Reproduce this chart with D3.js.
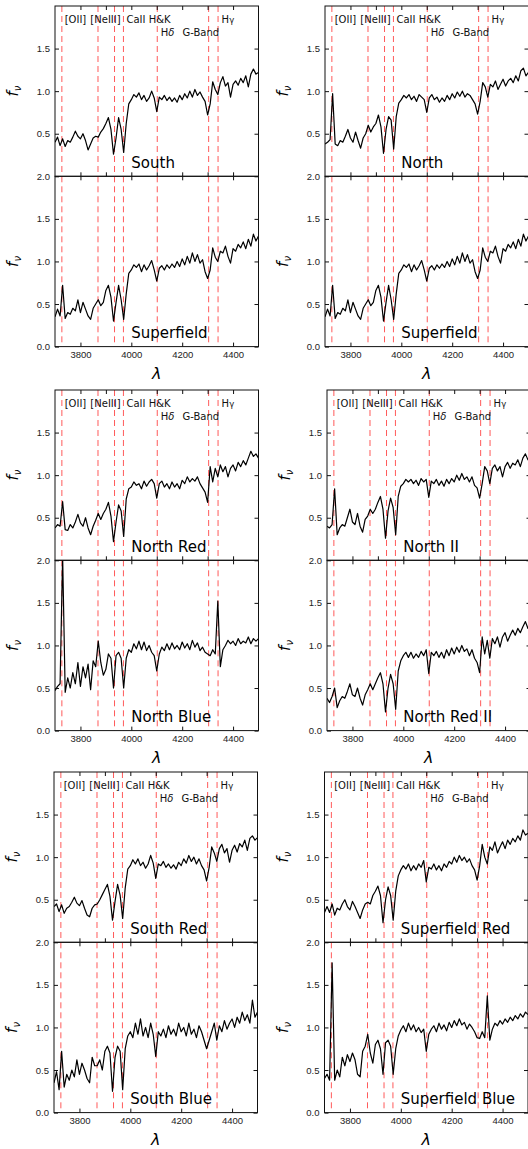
<!DOCTYPE html>
<html>
<head>
<meta charset="UTF-8">
<title>Spectra</title>
<style>
body { margin: 0; background: #fff; }
svg { display: block; font-family: "DejaVu Sans", sans-serif; }
.frame { fill: none; stroke: #111; stroke-width: 1; }
.spec { fill: none; stroke: #000; stroke-width: 1.2; stroke-linejoin: round; }
.feat { stroke: #ff0000; stroke-opacity: 0.65; stroke-width: 1; stroke-dasharray: 6 4; }
.axis path.domain { display: none; }
.axis .tick line { stroke: #111; }
.axis .tick text { font-size: 9.5px; fill: #222; }
.flabel { font-size: 10px; fill: #111; }
.plabel { font-size: 15px; fill: #000; }
</style>
</head>
<body>
<script src="https://cdn.jsdelivr.net/npm/d3@7/dist/d3.min.js"></script>
<script>

// wavelength grid (Angstrom)
const wavelength = [
  3700, 3710, 3720, 3730, 3740, 3750, 3760, 3770, 3780, 3790,
  3800, 3810, 3820, 3830, 3840, 3850, 3860, 3870, 3880, 3890,
  3900, 3910, 3920, 3930, 3940, 3950, 3960, 3970, 3980, 3990,
  4000, 4010, 4020, 4030, 4040, 4050, 4060, 4070, 4080, 4090,
  4100, 4110, 4120, 4130, 4140, 4150, 4160, 4170, 4180, 4190,
  4200, 4210, 4220, 4230, 4240, 4250, 4260, 4270, 4280, 4290,
  4300, 4310, 4320, 4330, 4340, 4350, 4360, 4370, 4380, 4390,
  4400, 4410, 4420, 4430, 4440, 4450, 4460, 4470, 4480, 4490,
  4500
];

const south = [
  0.40,0.46,0.36,0.44,0.35,0.42,0.40,0.46,0.53,0.47,
  0.44,0.50,0.42,0.31,0.38,0.45,0.47,0.46,0.52,0.56,
  0.62,0.69,0.55,0.26,0.45,0.69,0.55,0.28,0.62,0.85,
  0.90,0.96,0.93,0.98,0.90,0.95,0.88,0.92,1.00,0.92,
  0.76,0.93,0.90,0.95,0.89,0.93,0.88,0.92,0.87,0.95,
  0.90,0.97,0.92,1.00,0.93,1.02,0.95,0.99,0.93,0.88,
  0.72,0.85,1.11,1.02,0.96,1.10,1.17,1.06,1.10,0.93,
  1.08,1.12,1.07,1.15,1.10,1.18,1.05,1.20,1.26,1.20,
  1.22
];

const superfield = [
  0.35,0.44,0.36,0.72,0.33,0.40,0.38,0.45,0.42,0.55,
  0.40,0.52,0.44,0.36,0.32,0.45,0.50,0.55,0.48,0.52,
  0.66,0.72,0.58,0.30,0.52,0.72,0.55,0.32,0.62,0.86,
  0.90,0.96,0.93,0.97,0.88,0.96,0.90,0.95,1.01,0.90,
  0.77,0.92,0.95,0.90,0.96,0.92,0.97,0.93,1.00,0.94,
  1.03,0.96,1.06,0.98,1.10,1.00,1.08,0.98,1.02,0.88,
  0.80,0.90,1.16,1.05,1.00,1.12,1.10,1.18,1.06,0.98,
  1.15,1.12,1.20,1.16,1.23,1.15,1.26,1.18,1.32,1.24,
  1.30
];

const north = [
  0.38,0.40,0.43,0.97,0.38,0.36,0.42,0.40,0.47,0.55,
  0.45,0.40,0.52,0.42,0.33,0.45,0.50,0.60,0.52,0.58,
  0.62,0.72,0.58,0.27,0.55,0.70,0.66,0.32,0.70,0.86,
  0.90,0.95,0.92,0.96,0.90,0.94,0.88,0.96,0.93,0.90,
  0.75,0.92,0.96,0.90,0.93,0.87,0.92,0.88,0.95,0.90,
  0.97,0.92,0.99,0.94,1.00,0.93,0.97,0.95,0.90,0.85,
  0.73,0.88,1.10,1.05,0.93,1.08,1.05,1.12,1.02,1.08,
  1.14,1.06,1.12,1.15,1.10,1.18,1.12,1.24,1.27,1.18,
  1.22
];

const northRed = [
  0.38,0.42,0.40,0.69,0.36,0.35,0.42,0.38,0.45,0.54,
  0.44,0.40,0.50,0.38,0.30,0.40,0.47,0.55,0.48,0.55,
  0.60,0.68,0.52,0.22,0.45,0.65,0.58,0.28,0.72,0.84,
  0.86,0.92,0.88,0.90,0.84,0.93,0.87,0.92,0.95,0.90,
  0.73,0.90,0.93,0.86,0.90,0.84,0.92,0.86,0.90,0.84,
  0.94,0.90,0.98,0.92,0.96,0.93,0.98,0.90,0.85,0.80,
  0.68,1.10,0.92,1.08,0.98,1.12,1.04,1.10,0.98,1.08,
  1.12,1.05,1.15,1.10,1.17,1.12,1.20,1.28,1.22,1.25,
  1.20
];

const northBlue = [
  0.47,0.52,0.55,2.05,0.45,0.62,0.50,0.68,0.55,0.80,
  0.52,0.75,0.62,0.78,0.48,0.82,0.75,1.05,0.80,0.65,
  0.72,0.90,0.85,0.50,0.88,0.92,0.85,0.50,0.85,0.95,
  0.92,1.02,0.96,1.05,0.95,1.04,0.94,1.00,0.92,0.88,
  0.70,0.90,0.98,0.94,1.02,0.95,1.03,0.96,1.00,0.95,
  1.04,0.97,1.02,0.95,1.06,0.98,1.03,0.94,0.98,0.92,
  0.90,0.88,0.95,0.90,1.52,0.75,0.95,1.00,1.06,1.02,
  1.05,1.00,1.08,1.02,1.05,1.03,1.10,1.02,1.08,1.05,
  1.08
];

const northII = [
  0.40,0.38,0.42,0.84,0.30,0.38,0.42,0.40,0.50,0.60,
  0.45,0.42,0.55,0.40,0.33,0.48,0.52,0.60,0.55,0.60,
  0.68,0.75,0.60,0.26,0.58,0.73,0.62,0.30,0.75,0.87,
  0.90,0.95,0.92,0.95,0.90,0.94,0.88,0.96,0.92,0.95,
  0.74,0.93,0.90,0.95,0.88,0.93,0.87,0.95,0.90,0.96,
  0.92,1.00,0.94,1.02,0.95,0.98,0.92,0.98,0.88,0.85,
  0.73,0.90,1.10,1.05,0.90,1.08,1.12,1.05,1.10,0.98,
  1.10,1.15,1.08,1.14,1.12,1.18,1.10,1.20,1.25,1.18,
  1.22
];

const northRedII = [
  0.38,0.33,0.40,0.50,0.27,0.35,0.40,0.38,0.46,0.55,
  0.42,0.40,0.50,0.38,0.30,0.42,0.48,0.55,0.48,0.55,
  0.62,0.68,0.55,0.22,0.50,0.66,0.55,0.25,0.70,0.82,
  0.88,0.92,0.86,0.92,0.85,0.90,0.86,0.93,0.88,0.95,
  0.67,0.92,0.88,0.93,0.86,0.92,0.85,0.95,0.88,0.97,
  0.90,0.98,0.92,1.00,0.93,0.96,0.88,0.95,0.85,0.80,
  0.68,1.10,0.90,1.06,0.85,1.08,1.02,1.10,0.98,1.10,
  1.15,1.05,1.12,1.18,1.12,1.20,1.15,1.22,1.28,1.20,
  1.25
];

const southRed = [
  0.42,0.45,0.36,0.44,0.34,0.40,0.42,0.47,0.53,0.46,
  0.43,0.49,0.40,0.32,0.30,0.40,0.44,0.45,0.50,0.56,
  0.62,0.68,0.54,0.26,0.48,0.68,0.55,0.28,0.64,0.86,
  0.90,0.97,0.92,0.98,0.90,0.94,0.87,0.92,1.02,0.93,
  0.75,0.92,0.90,0.95,0.88,0.92,0.87,0.91,0.86,0.94,
  0.90,0.98,0.93,1.02,0.95,1.00,0.92,0.98,0.90,0.85,
  0.72,0.88,1.12,1.05,0.95,1.10,1.15,1.05,1.10,0.94,
  1.08,1.14,1.06,1.16,1.12,1.20,1.08,1.22,1.25,1.20,
  1.23
];

const southBlue = [
  0.35,0.48,0.27,0.72,0.30,0.45,0.38,0.50,0.42,0.62,
  0.45,0.58,0.50,0.40,0.35,0.65,0.55,0.55,0.62,0.50,
  0.72,0.78,0.70,0.25,0.65,0.78,0.72,0.27,0.75,0.90,
  0.95,0.88,1.05,0.92,1.10,0.90,1.00,0.88,1.05,0.92,
  0.66,0.95,0.90,0.98,0.88,1.02,0.92,0.98,0.90,1.05,
  0.95,1.00,0.90,1.05,0.92,0.98,0.88,1.02,0.95,0.85,
  0.75,0.85,0.95,1.05,0.85,1.02,0.95,1.08,0.98,1.05,
  1.10,1.00,1.12,1.05,1.18,1.08,1.15,1.05,1.32,1.12,
  1.18
];

const superfieldRed = [
  0.35,0.42,0.35,0.45,0.32,0.40,0.38,0.45,0.50,0.42,
  0.38,0.48,0.42,0.35,0.28,0.38,0.45,0.47,0.45,0.55,
  0.60,0.66,0.55,0.23,0.50,0.65,0.55,0.26,0.60,0.78,
  0.85,0.90,0.86,0.92,0.84,0.90,0.85,0.92,0.88,0.96,
  0.71,0.88,0.86,0.92,0.85,0.90,0.84,0.92,0.88,0.95,
  0.92,1.00,0.94,1.02,0.96,1.00,0.94,0.98,0.90,0.85,
  0.73,0.90,1.15,1.00,0.92,1.12,1.08,1.18,1.05,1.12,
  1.18,1.10,1.20,1.15,1.22,1.18,1.25,1.20,1.32,1.26,
  1.28
];

const superfieldBlue = [
  0.40,0.45,0.38,1.76,0.38,0.50,0.42,0.65,0.55,0.68,
  0.60,0.70,0.62,0.45,0.42,0.72,0.78,0.92,0.70,0.58,
  0.80,0.85,0.75,0.45,0.82,0.85,0.78,0.45,0.75,0.90,
  0.97,1.02,0.95,1.05,0.97,1.03,0.95,1.00,0.94,0.98,
  0.72,0.92,0.98,1.02,0.95,1.05,0.98,1.03,0.96,1.06,
  1.00,1.08,1.02,1.10,1.03,1.06,0.98,1.04,1.00,0.95,
  0.88,0.87,0.95,0.88,1.37,0.85,0.98,1.05,1.02,1.08,
  1.04,1.10,1.06,1.12,1.08,1.14,1.10,1.16,1.12,1.18,
  1.15
];

// spectral features
const featureWaves = [3727, 3869, 3934, 3969, 4102, 4304, 4341];
const featureNames = ["[OII]", "[NeIII]", "CaII H&K", "H|δ", "G-Band", "H|γ"];
const featureNameX = [3738, 3839, 3981, 4116, 4201, 4355];
const featureNameY = [1.8, 1.8, 1.8, 1.65, 1.65, 1.8];

const xTickLabels = [3800, 4000, 4200, 4400];
const xTicksMinor = [3800, 3900, 4000, 4100, 4200, 4300, 4400];
const yTicksTop = [0.5, 1.0, 1.5];
const yTicksBottom = [0.0, 0.5, 1.0, 1.5, 2.0];

// groups: [top name, top data, bottom name, bottom data] for left and right column
const groups = [
  { top: 6,   x: [55, 325],   cols: [["South", south, "Superfield", superfield], ["North", north, "Superfield", superfield]] },
  { top: 390, x: [55, 327],   cols: [["North Red", northRed, "North Blue", northBlue], ["North II", northII, "North Red II", northRedII]] },
  { top: 772, x: [54, 324.5], cols: [["South Red", southRed, "South Blue", southBlue], ["Superfield Red", superfieldRed, "Superfield Blue", superfieldBlue]] }
];

const W = 528, H = 1149;
const panelW = 203.5, panelH = 170.3;

const svg = d3.select('body').append('svg')
  .attr('width', W)
  .attr('height', H);

const defs = svg.append('defs');

const x = d3.scaleLinear().domain([3700, 4500]).range([0, panelW]);
const y = d3.scaleLinear().domain([0, 2]).range([panelH, 0]);

const line = d3.line()
  .x((d, i) => x(wavelength[i]))
  .y(d => y(d));

let clipId = 0;

function drawPanel(px, py, name, data, isTop) {
  const g = svg.append('g').attr('transform', 'translate(' + px + ',' + py + ')');
  const id = 'clip' + (clipId++);
  defs.append('clipPath').attr('id', id)
    .append('rect').attr('width', panelW).attr('height', panelH);

  g.selectAll('.feat')
    .data(featureWaves)
    .enter().append('line')
    .attr('class', 'feat')
    .attr('x1', d => x(d)).attr('x2', d => x(d))
    .attr('y1', 0).attr('y2', panelH);

  g.append('path')
    .attr('class', 'spec')
    .attr('clip-path', 'url(#' + id + ')')
    .attr('d', line(data));

  if (isTop) {
    const t = g.selectAll('.flabel')
      .data(featureNames)
      .enter().append('text')
      .attr('class', 'flabel')
      .attr('x', (d, i) => x(featureNameX[i]))
      .attr('y', (d, i) => y(featureNameY[i]));
    t.each(function (d) {
      const parts = d.split('|');
      const el = d3.select(this);
      el.append('tspan').text(parts[0]);
      if (parts[1]) {
        el.append('tspan').text(parts[1])
          .style('font-style', parts[1] === 'δ' ? 'italic' : 'normal')
          .style('font-size', parts[1] === 'γ' ? '8.5px' : '10px');
      }
    });
  }

  g.append('text')
    .attr('class', 'plabel')
    .attr('x', x(4000))
    .attr('y', y(0.1))
    .text(name);

  // axes, ticks pointing inward
  g.append('g').attr('class', 'axis')
    .call(d3.axisLeft(y).tickValues(isTop ? yTicksTop : yTicksBottom)
      .tickSize(-4).tickPadding(5).tickFormat(d3.format('.1f')));
  g.append('g').attr('class', 'axis')
    .attr('transform', 'translate(' + panelW + ',0)')
    .call(d3.axisRight(y).tickValues(isTop ? yTicksTop : yTicksBottom)
      .tickSize(-4).tickFormat(''));
  g.append('g').attr('class', 'axis')
    .call(d3.axisTop(x).tickValues(isTop ? xTicksMinor : xTickLabels)
      .tickSize(-4).tickFormat(''));
  const bx = d3.axisBottom(x).tickSize(-4);
  if (isTop) {
    bx.tickValues(xTicksMinor).tickFormat('');
  } else {
    bx.tickValues(xTickLabels).tickPadding(5).tickFormat(d3.format('d'));
  }
  g.append('g').attr('class', 'axis')
    .attr('transform', 'translate(0,' + panelH + ')')
    .call(bx);

  g.append('rect')
    .attr('class', 'frame')
    .attr('width', panelW)
    .attr('height', panelH);

  // y label
  const yl = g.append('text')
    .attr('transform', 'translate(-37,' + (panelH / 2) + ') rotate(-90)')
    .attr('text-anchor', 'middle')
    .style('font-size', '15px');
  yl.append('tspan').text('f').style('font-style', 'italic');
  yl.append('tspan').text('ν').style('font-style', 'italic')
    .style('font-size', '10px').attr('dy', 3);

  return g;
}

groups.forEach(grp => {
  grp.cols.forEach((c, ci) => {
    const px = grp.x[ci];
    drawPanel(px, grp.top, c[0], c[1], true);
    const gb = drawPanel(px, grp.top + panelH, c[2], c[3], false);
    gb.append('text')
      .attr('x', panelW / 2)
      .attr('y', panelH + 32)
      .attr('text-anchor', 'middle')
      .style('font-size', '16px')
      .style('font-style', 'italic')
      .text('λ');
  });
});

</script>
</body>
</html>
